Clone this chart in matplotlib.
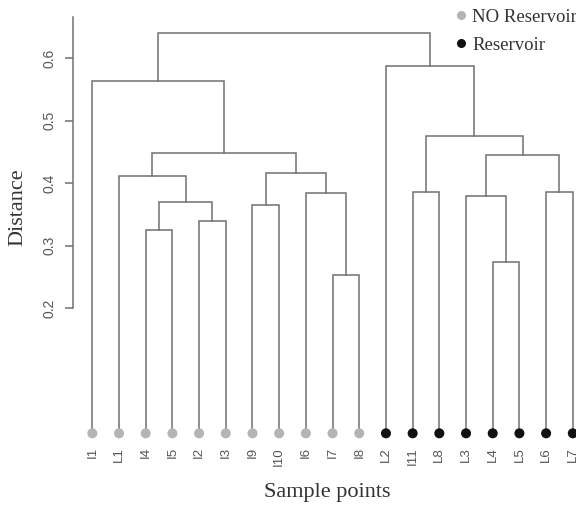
import numpy as np
import matplotlib
matplotlib.use("Agg")
import matplotlib.pyplot as plt
from matplotlib.lines import Line2D

# leaves in dendrogram order
leaf_labels = ["I1", "L1", "I4", "I5", "I2", "I3", "I9", "I10", "I6", "I7", "I8",
               "L2", "I11", "L8", "L3", "L4", "L5", "L6", "L7"]
reservoir = [0] * 11 + [1] * 8

# merges: (left, right, height); str = leaf, int = earlier merge index
merges = [
    ("I4", "I5", 0.326),   # 0
    ("I2", "I3", 0.339),   # 1
    (0, 1, 0.370),         # 2
    ("L1", 2, 0.412),      # 3
    ("I7", "I8", 0.254),   # 4
    ("I6", 4, 0.384),      # 5
    ("I9", "I10", 0.366),  # 6
    (6, 5, 0.416),         # 7
    (3, 7, 0.449),         # 8
    ("I1", 8, 0.564),      # 9
    ("L4", "L5", 0.274),   # 10
    ("L3", 10, 0.379),     # 11
    ("L6", "L7", 0.386),   # 12
    (11, 12, 0.446),       # 13
    ("I11", "L8", 0.386),  # 14
    (14, 13, 0.475),       # 15
    ("L2", 15, 0.588),     # 16
    (9, 16, 0.640),        # 17
]

y_ticks = [0.2, 0.3, 0.4, 0.5, 0.6]

line_col = "#707070"
serif = "Liberation Serif"
sans = "Liberation Sans"

leaf_x = {lab: i + 1 for i, lab in enumerate(leaf_labels)}
node_pos = []  # (x, height) for each merge


def pos(n):
    if isinstance(n, str):
        return leaf_x[n], 0.0
    return node_pos[n]


fig = plt.figure(figsize=(5.76, 5.08), dpi=100)
ax = fig.add_axes([72.7 / 576, 68 / 508, 1 - 72.7 / 576, 440 / 508])

for a, b, h in merges:
    xa, ha = pos(a)
    xb, hb = pos(b)
    ax.plot([xa, xa, xb, xb], [ha, h, h, hb], color=line_col, lw=1.1,
            solid_joinstyle="miter", clip_on=False)
    node_pos.append(((xa + xb) / 2, h))

xs = np.arange(1, len(leaf_labels) + 1)
dot_cols = ["#b4b4b4" if r == 0 else "#111111" for r in reservoir]
ax.scatter(xs, np.zeros(len(xs)), s=52, c=dot_cols, zorder=3, clip_on=False,
           linewidths=0)

ax.set_xlim(0.265, 19.12)
ax.set_ylim(-0.0107, 0.6933)

for s in ["top", "right", "bottom"]:
    ax.spines[s].set_visible(False)
ax.spines["left"].set_bounds(0.2, 0.666)
ax.spines["left"].set_color(line_col)
ax.spines["left"].set_linewidth(1.1)

ax.set_yticks(y_ticks)
ax.set_yticklabels([f"{t:.1f}" for t in y_ticks], rotation=90, va="center",
                   fontfamily=sans, fontsize=10, color="#555555")
ax.tick_params(axis="y", length=6, width=1.1, color=line_col, pad=6)

ax.set_xticks(xs)
ax.set_xticklabels(leaf_labels, rotation=90, fontfamily=sans, fontsize=9.5,
                   color="#555555")
ax.tick_params(axis="x", length=0, pad=5)

fig.text(17.5 / 576, 1 - 207 / 508, "Distance", rotation=90, ha="center",
         va="center", fontfamily=serif, fontsize=16, color="#333333")
fig.text(327 / 576, 1 - 492 / 508, "Sample points", ha="center", va="center",
         fontfamily=serif, fontsize=16, color="#333333")

handles = [
    Line2D([], [], marker="o", ls="none", color="#b4b4b4", markersize=5.5,
           label="NO Reservoir"),
    Line2D([], [], marker="o", ls="none", color="#111111", markersize=5.5,
           label="Reservoir"),
]
fig.legend(handles=handles, loc="upper left", bbox_to_anchor=(444 / 576, 0.998),
           frameon=False, prop={"family": serif, "size": 13.5},
           handletextpad=0.1, handlelength=1.0, labelspacing=0.6,
           borderaxespad=0, labelcolor="#333333")

fig.savefig("out.png", dpi=100)
